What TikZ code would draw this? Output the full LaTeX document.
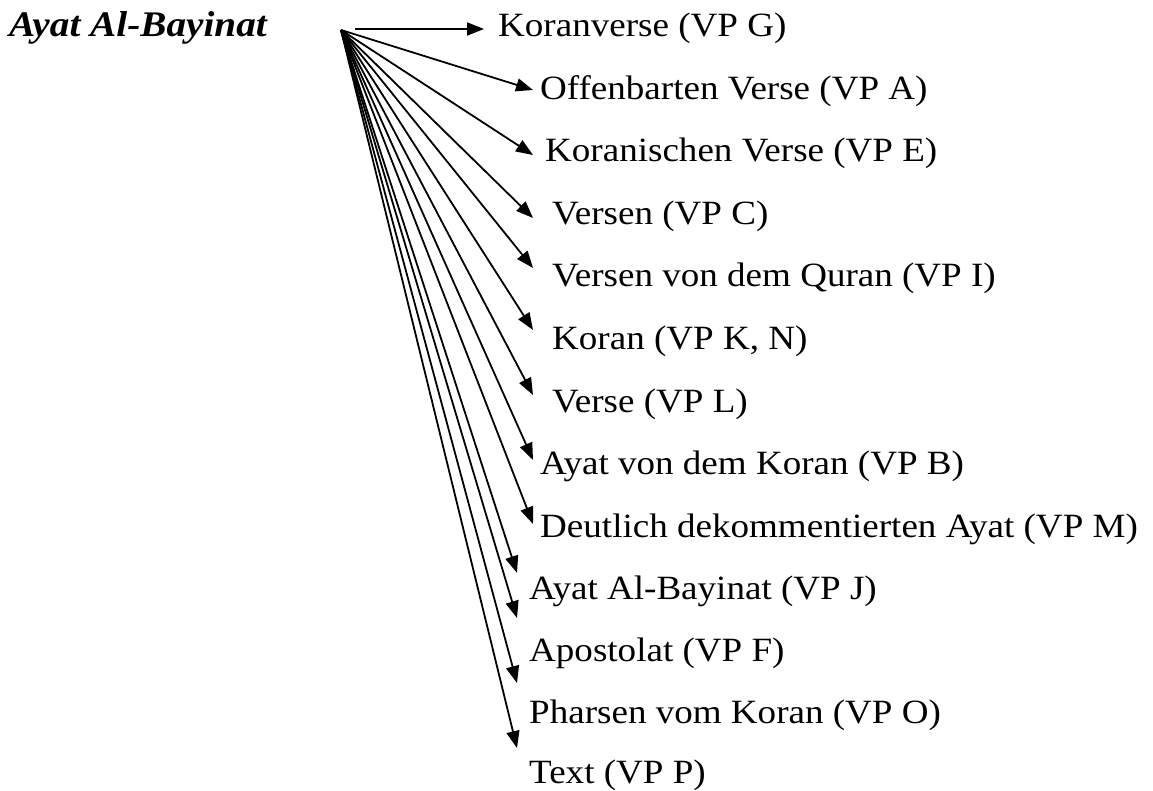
\documentclass[tikz,border=0pt]{standalone}
\usepackage{fontspec}
\setmainfont{Liberation Serif}[FakeStretch=1.09]
\usetikzlibrary{arrows.meta}
\tikzset{
  lbl/.style={anchor=base west, inner sep=0pt, font=\fontsize{34}{40}\selectfont},
  ttl/.style={anchor=base west, inner sep=0pt, font=\fontsize{36}{40}\selectfont\bfseries\itshape},
  arr/.style={line width=1.8pt, -{Triangle[length=17pt,width=13pt]}}
}
\begin{document}
\begin{tikzpicture}[x=1pt,y=-1pt]
\useasboundingbox (0,0) rectangle (1153,791);
\node[ttl] (title) at (9,37) {Ayat Al-Bayinat};
\coordinate (src) at (341,30);
\coordinate (hs) at (355,29);
\node[lbl] (l1) at (498,37) {Koranverse (VP G)};
\node[lbl] (l2) at (540,100) {Offenbarten Verse (VP A)};
\node[lbl] (l3) at (545,162) {Koranischen Verse (VP E)};
\node[lbl] (l4) at (552,225) {Versen (VP C)};
\node[lbl] (l5) at (552,287) {Versen von dem Quran (VP I)};
\node[lbl] (l6) at (552,349) {Koran (VP K, N)};
\node[lbl] (l7) at (552,412) {Verse (VP L)};
\node[lbl] (l8) at (540,474) {Ayat von dem Koran (VP B)};
\node[lbl] (l9) at (540,537) {Deutlich dekommentierten Ayat (VP M)};
\node[lbl] (l10) at (529,599) {Ayat Al-Bayinat (VP J)};
\node[lbl] (l11) at (529,661) {Apostolat (VP F)};
\node[lbl] (l12) at (529,723) {Pharsen vom Koran (VP O)};
\node[lbl] (l13) at (529,783) {Text (VP P)};
\coordinate (t1) at (484,29);
\coordinate (t2) at (533,90);
\coordinate (t3) at (533,155);
\coordinate (t4) at (533,218);
\coordinate (t5) at (533,268);
\coordinate (t6) at (533,330);
\coordinate (t7) at (533,395);
\coordinate (t8) at (533,460);
\coordinate (t9) at (533,524);
\coordinate (t10) at (517,573);
\coordinate (t11) at (517,618);
\coordinate (t12) at (517,683);
\coordinate (t13) at (517,748);
\draw[arr] (hs) -- (t1);
\foreach \i in {2,...,13} { \draw[arr] (src) -- (t\i); }
\end{tikzpicture}
\end{document}
